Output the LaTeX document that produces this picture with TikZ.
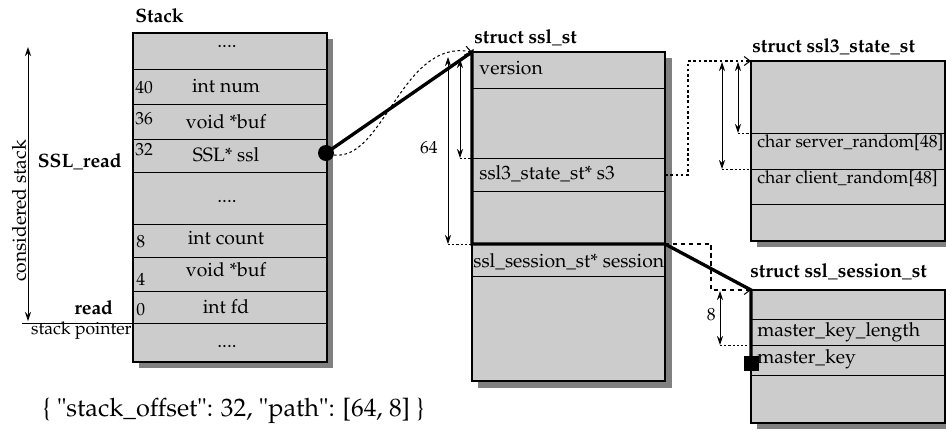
\documentclass[tikz,border=0pt]{standalone}
\usepackage[T1]{fontenc}
\renewcommand{\rmdefault}{ppl}
\usepackage{tikz}
\usetikzlibrary{arrows.meta,positioning,calc}
\definecolor{boxGray}{HTML}{CCCCCC}
\definecolor{shadowGray}{HTML}{808080}

\begin{document}
\begin{tikzpicture}[x=0.2mm, y=-0.2mm,
  every node/.style={font=\fontsize{11}{13}\selectfont, inner sep=0pt},
  frame/.style={draw=black, fill=boxGray, line width=0.6pt},
  shade/.style={fill=shadowGray},
  sep/.style={line width=0.5pt},
  title/.style={font=\fontsize{11}{13}\selectfont\bfseries, anchor=base west},
  field/.style={anchor=base},
  lfield/.style={anchor=base west},
  off/.style={anchor=base west, font=\fontsize{10}{12}\selectfont},
  dim/.style={{Stealth[length=1.8mm,width=1.2mm,inset=0.6mm]}-{Stealth[length=1.8mm,width=1.2mm,inset=0.6mm]}, line width=0.5pt},
  guide/.style={dash pattern=on 1.2pt off 1.2pt, line width=0.5pt},
  link/.style={dash pattern=on 1.5pt off 1.5pt, line width=0.6pt, -{Straight Barb[length=1.2mm,width=1.8mm]}},
  slink/.style={dash pattern=on 2.5pt off 2pt, line width=0.6pt, -{Straight Barb[length=1.2mm,width=1.8mm]}},
  ptr/.style={line width=1.9pt, line join=miter}
]
\useasboundingbox (0,0) rectangle (946,433);

% stack frame
\fill[shade] (139,39) rectangle (333,368);
\draw[frame] (133,33) rectangle (327,362);
\foreach \y in {69,104,139,172,224,257,291,323}
  \draw[sep] (133,\y) -- (327,\y);
\node[title] (stacktitle) at (135,22) {Stack};
\node[field] (stk-top) at (227,47) {....};
\node[field] (stk-num) at (226,92) {int num};
\node[field] (stk-buf) at (226,128) {void *buf};
\node[field] (stk-ssl) at (226,161) {SSL* ssl};
\node[field] (stk-mid) at (227,202) {....};
\node[field] (stk-count) at (226,244) {int count};
\node[field] (stk-buf2) at (226,276) {void *buf};
\node[field] (stk-fd) at (226,313) {int fd};
\node[field] (stk-bot) at (227,347) {....};
\node[off] at (135,93) {40};
\node[off] at (135,124) {36};
\node[off] at (135,155) {32};
\node[off] at (136,247) {8};
\node[off] at (136,285) {4};
\node[off] at (136,315) {0};

% left side
\node[font=\fontsize{11}{13}\selectfont\bfseries, anchor=base east] (sslread) at (122,167) {SSL\_read};
\node[font=\fontsize{11}{13}\selectfont\bfseries, anchor=base west] (readfn) at (74,314) {read};
\node[anchor=base east, font=\fontsize{10}{12}\selectfont] (sp) at (132,334) {stack pointer};
\coordinate (sp-l) at (22,323);
\coordinate (sp-r) at (133,323);
\draw[sep] (sp-l) -- (sp-r);
\coordinate (cs-top) at (28,47);
\coordinate (cs-bot) at (28,321);
\draw[dim] (cs-top) -- (cs-bot);
\node[rotate=90, anchor=base] (considered) at (26,211) {considered stack};

% struct ssl_st
\fill[shade] (478,58) rectangle (672,388);
\draw[frame] (472,52) rectangle (665,381);
\foreach \y in {88,158,191,244,276}
  \draw[sep] (472,\y) -- (665,\y);
\node[title] (ssltitle) at (474,43) {struct ssl\_st};
\node[lfield] (ver) at (479,74) {version};
\node[lfield] (s3) at (479,179) {ssl3\_state\_st* s3};
\node[lfield] (sess) at (473,267) {ssl\_session\_st* session};

% struct ssl3_state_st
\fill[shade] (757,67) rectangle (952,247);
\draw[frame] (751,61) rectangle (945,241);
\foreach \y in {133,169,204}
  \draw[sep] (751,\y) -- (945,\y);
\node[title] (s3title) at (752,52) {struct ssl3\_state\_st};
\node[lfield, font=\fontsize{10}{12}\selectfont] (srand) at (757,147) {char server\_random[48]};
\node[lfield, font=\fontsize{10}{12}\selectfont] (crand) at (757,183) {char client\_random[48]};

% struct ssl_session_st
\fill[shade] (757,296) rectangle (952,429);
\draw[frame] (751,290) rectangle (945,423);
\foreach \y in {319,345,375}
  \draw[sep] (751,\y) -- (945,\y);
\node[title] (sesstitle) at (750,277) {struct ssl\_session\_st};
\node[lfield] (mkl) at (757,336) {master\_key\_length};
\node[lfield] (mk) at (757,363) {master\_key};

% anchor points
\coordinate (sslptr) at (326,153);
\coordinate (sslst) at (472,52);
\coordinate (sslst-s3) at (665,175);
\coordinate (sslst-sess) at (472,244);
\coordinate (sslst-sessR) at (665,244);
\coordinate (s3st) at (751,61);
\coordinate (sessst) at (751,290);
\coordinate (mkey) at (751,363);

% dimensions
\coordinate (d64top) at (448,57);
\coordinate (d64bot) at (448,244);
\coordinate (ds3top) at (460,59);
\coordinate (ds3bot) at (460,158);
\draw[dim] (d64top) -- (d64bot);
\draw[dim] (ds3top) -- (ds3bot);
\draw[guide] (d64bot) -- (sslst-sess);
\draw[guide] (ds3bot) -- (472,158);
\node[off, anchor=base east] (len64) at (438,153) {64};

\coordinate (dsrtop) at (722,62);
\coordinate (dsrbot) at (722,169);
\coordinate (dcrtop) at (738,62);
\coordinate (dcrbot) at (738,133);
\draw[dim] (dsrtop) -- (dsrbot);
\draw[dim] (dcrtop) -- (dcrbot);
\draw[guide] (dsrbot) -- (751,169);
\draw[guide] (dcrbot) -- (751,133);

\coordinate (dmktop) at (720,291);
\coordinate (dmkbot) at (720,345);
\draw[dim] (dmktop) -- (dmkbot);
\draw[guide] (dmkbot) -- (751,345);
\node[off, anchor=base east] (len8) at (716,320) {8};

% links
\draw[link] (sslptr) ++(8,2) .. controls +(50,6) and +(-70,-14) .. (sslst);
\draw[link] (sslst-s3) -- ++(23,0) |- (s3st);
\draw[slink] (sslst-sessR) -- ++(46,0) |- (sessst);

% resolved path
\draw[ptr] (sslptr) -- (sslst) -- (sslst-sess) -- (sslst-sessR) -- (sessst) -- (mkey);
\fill (sslptr) circle (1.6mm);
\node[fill=black, minimum size=3mm] (mkeymark) at (mkey) {};

\node[anchor=base west, font=\fontsize{14.4}{17}\selectfont] (json) at (42,416) {\{ "stack\_offset": 32, "path": [64, 8] \}};
\end{tikzpicture}
\end{document}
